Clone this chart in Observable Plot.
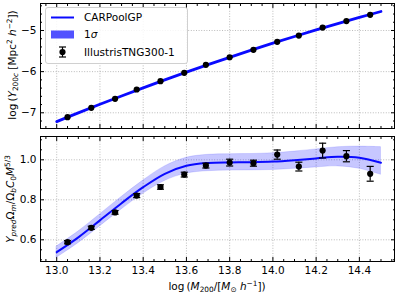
<!DOCTYPE html>
<html><head><meta charset="utf-8">
<script src="https://cdn.jsdelivr.net/npm/d3@7"></script>
<script src="https://cdn.jsdelivr.net/npm/@observablehq/plot@0.6"></script>
<style>
body{margin:0;background:#fff;}
#chart{position:relative;width:399px;height:295px;font-family:"DejaVu Sans",sans-serif;overflow:hidden;background:#fff}
#chart svg.plt{position:absolute;left:0;overflow:visible}
.lab{position:absolute;font-size:10.5px;white-space:nowrap;color:#000;line-height:1}
.lab sub,.lab sup{font-size:70%;line-height:0}
.lab sub{vertical-align:-0.3em}
.lab sup{vertical-align:0.55em}
.rot{transform:translate(-50%,-50%) rotate(-90deg)}
.hor{transform:translate(-50%,-50%)}
#legend{position:absolute;left:45px;top:7px;width:143px;height:57px;border:1px solid #d0d0d0;border-radius:3px;background:rgba(255,255,255,0.85);box-sizing:border-box}
#legend svg{position:absolute;left:0;top:0}
</style></head><body><div id="chart"></div>
<script>
// ---- data ----
const massBins = [13.05, 13.16, 13.27, 13.37, 13.48, 13.59, 13.69, 13.80, 13.91, 14.02, 14.12, 14.23, 14.34, 14.45];
const tngLogY = [-7.107, -6.879, -6.660, -6.434, -6.233, -6.030, -5.835, -5.650, -5.470, -5.275, -5.123, -4.930, -4.770, -4.620];
const tngLogYErr = [0.01, 0.01, 0.01, 0.01, 0.01, 0.01, 0.01, 0.01, 0.01, 0.012, 0.012, 0.015, 0.015, 0.018];
const tngRatio = [0.588, 0.660, 0.737, 0.821, 0.864, 0.926, 0.971, 0.986, 0.983, 1.026, 0.966, 1.046, 1.018, 0.930];
const tngRatioErr = [0.008, 0.008, 0.009, 0.010, 0.011, 0.012, 0.012, 0.017, 0.015, 0.023, 0.022, 0.037, 0.028, 0.037];
const gpMass = [13.0, 13.1, 13.2, 13.3, 13.4, 13.5, 13.6, 13.7, 13.8, 13.9, 14.0, 14.1, 14.2, 14.3, 14.4, 14.5];
const gpLogY = [-7.214, -7.002, -6.794, -6.592, -6.394, -6.201, -6.013, -5.830, -5.652, -5.478, -5.309, -5.146, -4.987, -4.833, -4.683, -4.539];
const gpRatio = [0.538, 0.612, 0.697, 0.783, 0.863, 0.930, 0.970, 0.984, 0.987, 0.988, 0.991, 0.998, 1.007, 1.015, 1.010, 0.985];
const gpRatioLo = [0.510, 0.583, 0.667, 0.752, 0.830, 0.894, 0.931, 0.943, 0.946, 0.947, 0.949, 0.955, 0.962, 0.967, 0.955, 0.925];
const gpRatioHi = [0.566, 0.641, 0.727, 0.814, 0.896, 0.967, 1.010, 1.025, 1.028, 1.029, 1.033, 1.041, 1.052, 1.063, 1.066, 1.063];
const xTicks = [13.0, 13.2, 13.4, 13.6, 13.8, 14.0, 14.2, 14.4];
const yTopTicks = [-7, -6, -5];
const yBotTicks = [0.6, 0.8, 1.0];
const legendLabels = ["CARPoolGP", "1σ", "IllustrisTNG300-1"];

// ---- tables ----
const pts = massBins.map((m, i) => ({m, y: tngLogY[i], ey: tngLogYErr[i], r: tngRatio[i], er: tngRatioErr[i]}));
const gp = gpMass.map((m, i) => ({m, y: gpLogY[i], r: gpRatio[i], lo: gpRatioLo[i], hi: gpRatioHi[i]}));

const xDomain = [12.925, 14.5625];
const minorX = d3.range(12.95, 14.56, 0.05).map(v => +v.toFixed(2)).filter(v => !xTicks.some(t => Math.abs(t - v) < 1e-6));
const minorTop = d3.range(-7.2, -4.35, 0.2).map(v => +v.toFixed(2)).filter(v => !yTopTicks.some(t => Math.abs(t - v) < 1e-6));
const minorBot = d3.range(0.5, 1.12, 0.05).map(v => +v.toFixed(2)).filter(v => !yBotTicks.some(t => Math.abs(t - v) < 1e-6));

const capSymbol = {draw(ctx, size) { const w = Math.sqrt(size) / 2; ctx.moveTo(-w, 0); ctx.lineTo(w, 0); }};
const gridStyle = {stroke: "#aaaaaa", strokeOpacity: 1, strokeWidth: 0.8, strokeDasharray: "1,1.6"};

function frameMarks(yTicks, minorY, showX, yFmt) {
  const m = [
    Plot.gridX(xTicks, gridStyle),
    Plot.gridY(yTicks, gridStyle),
    Plot.axisX(xTicks, {anchor: "bottom", tickSize: -4, text: null, label: null}),
    Plot.axisX(xTicks, {anchor: "top", tickSize: -4, text: null, label: null}),
    Plot.axisX(minorX, {anchor: "bottom", tickSize: -2, text: null, label: null}),
    Plot.axisX(minorX, {anchor: "top", tickSize: -2, text: null, label: null}),
    Plot.axisY(yTicks, {anchor: "left", tickSize: -4, text: null, label: null}),
    Plot.axisY(yTicks, {anchor: "right", tickSize: -4, text: null, label: null}),
    Plot.axisY(minorY, {anchor: "left", tickSize: -2, text: null, label: null}),
    Plot.axisY(minorY, {anchor: "right", tickSize: -2, text: null, label: null}),
    Plot.axisY(yTicks, {anchor: "left", tickSize: 0, tickPadding: 4, label: null, tickFormat: yFmt, fontSize: 10.5})
  ];
  if (showX) m.push(Plot.axisX(xTicks, {anchor: "bottom", tickSize: 0, tickPadding: 5, label: null, tickFormat: d3.format(".1f"), fontSize: 10.5}));
  return m;
}

const topPlot = Plot.plot({
  width: 399, height: 133,
  marginTop: 3, marginBottom: 5, marginLeft: 40, marginRight: 5,
  style: {fontFamily: "DejaVu Sans, sans-serif", background: "transparent"},
  x: {domain: xDomain},
  y: {domain: [-7.382, -4.344]},
  marks: [
    ...frameMarks(yTopTicks, minorTop, false, d => d3.format("d")(d).replace("-", "\u2212")),
    Plot.line(gp, {x: "m", y: "y", stroke: "#0a0aff", strokeWidth: 2.8, curve: "catmull-rom"}),
    Plot.ruleX(pts, {x: "m", y1: d => d.y - d.ey, y2: d => d.y + d.ey, stroke: "#000", strokeWidth: 1.2}),
    Plot.dot(pts, {x: "m", y: "y", r: 3.1, fill: "#000", stroke: "none"}),
    Plot.frame({stroke: "#000", strokeWidth: 1})
  ]
});

const botPlot = Plot.plot({
  width: 399, height: 164,
  marginTop: 5, marginBottom: 34, marginLeft: 40, marginRight: 5,
  style: {fontFamily: "DejaVu Sans, sans-serif", background: "transparent"},
  x: {domain: xDomain},
  y: {domain: [0.4915, 1.1165]},
  marks: [
    ...frameMarks(yBotTicks, minorBot, true, d3.format(".1f")),
    Plot.areaY(gp, {x: "m", y1: "lo", y2: "hi", fill: "#0000ff", fillOpacity: 0.22, stroke: "#0000ff", strokeOpacity: 0.15, strokeWidth: 0.8, curve: "catmull-rom"}),
    Plot.line(gp, {x: "m", y: "r", stroke: "#0a0aff", strokeWidth: 2, curve: "catmull-rom"}),
    Plot.ruleX(pts, {x: "m", y1: d => d.r - d.er, y2: d => d.r + d.er, stroke: "#000", strokeWidth: 1.2}),
    Plot.dot(pts, {x: "m", y: d => d.r - d.er, r: 4, symbol: capSymbol, fill: "none", stroke: "#000", strokeWidth: 1.2}),
    Plot.dot(pts, {x: "m", y: d => d.r + d.er, r: 4, symbol: capSymbol, fill: "none", stroke: "#000", strokeWidth: 1.2}),
    Plot.dot(pts, {x: "m", y: "r", r: 3.1, fill: "#000", stroke: "none"}),
    Plot.frame({stroke: "#000", strokeWidth: 1})
  ]
});

const chart = document.getElementById("chart");
topPlot.classList.add("plt"); topPlot.style.top = "0px";
botPlot.classList.add("plt"); botPlot.style.top = "131px";
chart.appendChild(topPlot);
chart.appendChild(botPlot);

function addLabel(html, cx, cy, cls) {
  const d = document.createElement("div");
  d.className = "lab " + cls;
  d.style.left = cx + "px"; d.style.top = cy + "px";
  d.innerHTML = html;
  chart.appendChild(d);
}
addLabel('log&#8201;(<i>Y</i><sub>200<i>c</i></sub> [Mpc<sup>2</sup> <i>h</i><sup>\u22122</sup>])', 12, 65, "rot");
addLabel('<i>Y</i><sub><i>pred</i></sub>Ω<sub><i>m</i></sub>/Ω<sub><i>b</i></sub><i>C</i><sub>0</sub><i>M</i><sup>5/3</sup>', 10, 199, "rot");
addLabel('log&#8201;(<i>M</i><sub>200</sub>/[<i>M</i><sub>⊙</sub> <i>h</i><sup>\u22121</sup>])', 217, 286, "hor");

// legend
const leg = document.createElement("div");
leg.id = "legend";
chart.appendChild(leg);
const ls = d3.create("svg").attr("width", 143).attr("height", 57);
const rowY = [9.5, 26.5, 44];
ls.append("line").attr("x1", 5).attr("x2", 28).attr("y1", rowY[0]).attr("y2", rowY[0]).attr("stroke", "#0a0aff").attr("stroke-width", 2);
ls.append("rect").attr("x", 5).attr("y", rowY[1] - 4).attr("width", 23).attr("height", 8).attr("fill", "#0000ff").attr("fill-opacity", 0.68);
ls.append("line").attr("x1", 16.5).attr("x2", 16.5).attr("y1", rowY[2] - 5).attr("y2", rowY[2] + 5).attr("stroke", "#000").attr("stroke-width", 1.2);
ls.append("line").attr("x1", 13).attr("x2", 20).attr("y1", rowY[2] - 5).attr("y2", rowY[2] - 5).attr("stroke", "#000").attr("stroke-width", 1.2);
ls.append("line").attr("x1", 13).attr("x2", 20).attr("y1", rowY[2] + 5).attr("y2", rowY[2] + 5).attr("stroke", "#000").attr("stroke-width", 1.2);
ls.append("circle").attr("cx", 16.5).attr("cy", rowY[2]).attr("r", 3.1).attr("fill", "#000");
legendLabels.forEach((t, i) => {
  const tx = ls.append("text").attr("x", 38).attr("y", rowY[i]).attr("dy", "0.36em")
    .attr("font-family", "DejaVu Sans, sans-serif").attr("font-size", 10.5).attr("fill", "#000");
  if (t === "1σ") { tx.append("tspan").text("1"); tx.append("tspan").attr("font-style", "italic").text("σ"); }
  else tx.text(t);
});
leg.appendChild(ls.node());
</script>
</body></html>
